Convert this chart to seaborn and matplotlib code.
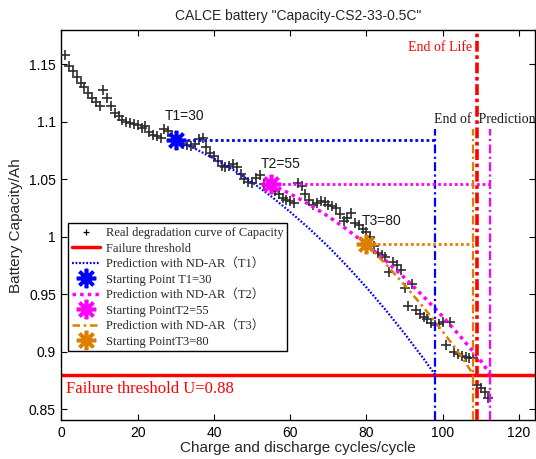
import numpy as np
import pandas as pd
import matplotlib
matplotlib.use("Agg")
import matplotlib.pyplot as plt
import seaborn as sns
from matplotlib.lines import Line2D

# Measured capacity (Ah) per charge/discharge cycle
cycles = list(range(1, 113))
capacity = [
    1.158, 1.149, 1.144, 1.139, 1.134, 1.130, 1.125, 1.121, 1.117, 1.114,
    1.128, 1.121, 1.114, 1.108, 1.105, 1.102, 1.100, 1.099, 1.098, 1.097,
    1.095, 1.096, 1.091, 1.089, 1.088, 1.086, 1.094, 1.092, 1.088, 1.084,
    1.083, 1.081, 1.080, 1.079, 1.081, 1.085, 1.086, 1.078, 1.073, 1.070,
    1.066, 1.062, 1.061, 1.062, 1.063, 1.061, 1.055, 1.050, 1.048, 1.047,
    1.051, 1.054, 1.046, 1.044, 1.043, 1.040, 1.037, 1.034, 1.032, 1.031,
    1.029, 1.047, 1.044, 1.037, 1.032, 1.028, 1.029, 1.031, 1.030, 1.028,
    1.027, 1.025, 1.020, 1.014, 1.016, 1.021, 1.012, 1.010, 1.007, 1.004,
    1.000, 0.992, 0.986, 0.984, 0.982, 0.969, 0.978, 0.975, 0.971, 0.955,
    0.940, 0.959, 0.936, 0.933, 0.930, 0.928, 0.925, 0.923, 0.924, 0.926,
    0.906, 0.926, 0.900, 0.898, 0.896, 0.895, 0.894, 0.894, 0.871, 0.868,
    0.865, 0.860,
]

# ND-AR predictions from three starting points
pred1_cycles = [30, 35, 40, 45, 50, 55, 60, 65, 70, 75, 80, 85, 90, 95, 98]
pred1_values = [1.0838, 1.0767, 1.0681, 1.0584, 1.0474, 1.0352, 1.0216, 1.0071,
                0.9914, 0.9742, 0.9559, 0.9364, 0.9157, 0.8938, 0.8800]
pred2_cycles = [55, 60, 65, 70, 75, 80, 85, 90, 95, 100, 105, 110, 112.5]
pred2_values = [1.0455, 1.0374, 1.0281, 1.0177, 1.0061, 0.9933, 0.9794, 0.9642,
                0.9479, 0.9305, 0.9118, 0.8920, 0.8800]
pred3_cycles = [80, 85, 90, 95, 100, 105, 108]
pred3_values = [0.9935, 0.9764, 0.9580, 0.9384, 0.9175, 0.8954, 0.8800]

start_cycles = [30, 55, 80]
start_values = [1.0838, 1.0455, 0.9935]
end_cycles = [98, 112.5, 108]
end_of_life = 109
threshold = 0.88

C_BLUE = "#0000FF"
C_MAG = "#FF00FF"
C_ORG = "#DE7E00"
C_RED = "#FF0000"

sns.set_theme(style="ticks")
plt.rcParams["font.family"] = ["Liberation Sans", "DejaVu Sans"]
serif = ["Liberation Serif", "DejaVu Serif"]

fig = plt.figure(figsize=(5.36, 4.59), dpi=100)
ax = fig.add_axes([0.1147, 0.0839, 0.8833, 0.8507])

df = pd.DataFrame({"cycle": cycles, "capacity": capacity})
sns.scatterplot(data=df, x="cycle", y="capacity", marker="+", color="#2e2e2e",
                s=55, linewidth=1.2, ax=ax, zorder=3, legend=False)

# failure threshold
ax.axhline(threshold, color=C_RED, lw=2.5, zorder=2)

# prediction curves
pred_df1 = pd.DataFrame({"cycle": pred1_cycles, "capacity": pred1_values})
pred_df2 = pd.DataFrame({"cycle": pred2_cycles, "capacity": pred2_values})
pred_df3 = pd.DataFrame({"cycle": pred3_cycles, "capacity": pred3_values})
sns.lineplot(data=pred_df1, x="cycle", y="capacity", color=C_BLUE, lw=1.6,
             linestyle=(0, (0.8, 0.8)), ax=ax, zorder=4)
sns.lineplot(data=pred_df2, x="cycle", y="capacity", color=C_MAG, lw=2.5,
             linestyle=(0, (1, 1.2)), ax=ax, zorder=4)
sns.lineplot(data=pred_df3, x="cycle", y="capacity", color=C_ORG, lw=1.8,
             linestyle=(0, (3, 1.5, 1, 1.5)), ax=ax, zorder=4)

# guide lines from each start point to its predicted end of life
vtop = 1.094
for sc, sv, ec, col in zip(start_cycles, start_values, end_cycles,
                           [C_BLUE, C_MAG, C_ORG]):
    ax.plot([sc, ec], [sv, sv], color=col, lw=2, linestyle=(0, (1, 1)), zorder=4)
    ax.plot([ec, ec], [0.84, vtop], color=col, lw=1.6,
            linestyle=(0, (4, 1.5, 1, 1.5)), zorder=4)
ax.axvline(end_of_life, color=C_RED, lw=2.6, linestyle=(0, (3, 1, 1, 1)), zorder=5)

# start-point asterisks
for sc, sv, col in zip(start_cycles, start_values, [C_BLUE, C_MAG, C_ORG]):
    ax.plot(sc, sv, marker=(8, 2, 0), ms=14, mew=2.6, color=col, zorder=6,
            linestyle="none")

# annotations
for sc, lbl, yv in zip(start_cycles, ["T1=30", "T2=55", "T3=80"],
                       [1.105, 1.0635, 1.0135]):
    ax.text(sc - 2.8 + (1.5 if sc == 80 else 0), yv, lbl, fontsize=10,
            ha="left", va="center", color="#1a1a1a")
ax.text(107.7, 1.1645, "End of Life", color=C_RED, fontsize=10, family=serif,
        ha="right", va="center")
ax.text(97.6, 1.102, "End of  Prediction", color="#1a1a1a", fontsize=10,
        family=serif, ha="left", va="center", clip_on=False)
ax.text(1.2, 0.867, "Failure threshold U=0.88", color=C_RED, fontsize=12,
        family=serif, ha="left", va="center")

ax.set_xlim(0, 124.2)
ax.set_ylim(0.84, 1.18)
ax.set_xticks([0, 20, 40, 60, 80, 100, 120])
ax.set_yticks([0.85, 0.9, 0.95, 1.0, 1.05, 1.1, 1.15])
ax.set_yticklabels(["0.85", "0.9", "0.95", "1", "1.05", "1.1", "1.15"])
ax.tick_params(direction="in", length=4, width=0.8, top=True, right=True,
               labelsize=10, colors="black", pad=4)
for sp in ax.spines.values():
    sp.set_linewidth(1.0)
    sp.set_color("black")
ax.set_xlabel("Charge and discharge cycles/cycle", fontsize=11, labelpad=1)
ax.set_ylabel("Battery Capacity/Ah", fontsize=11, labelpad=4)
ax.set_title('CALCE battery "Capacity-CS2-33-0.5C"', fontsize=10, pad=7)

handles = [
    Line2D([], [], marker="+", color="black", linestyle="none", ms=5, mew=0.9),
    Line2D([], [], color=C_RED, lw=2.5),
    Line2D([], [], color=C_BLUE, lw=1.6, linestyle=(0, (0.8, 0.8))),
    Line2D([], [], marker=(8, 2, 0), color=C_BLUE, linestyle="none", ms=14, mew=2.6),
    Line2D([], [], color=C_MAG, lw=2.5, linestyle=(0, (1, 1.2))),
    Line2D([], [], marker=(8, 2, 0), color=C_MAG, linestyle="none", ms=14, mew=2.6),
    Line2D([], [], color=C_ORG, lw=1.8, linestyle=(0, (3, 1.5, 1, 1.5))),
    Line2D([], [], marker=(8, 2, 0), color=C_ORG, linestyle="none", ms=14, mew=2.6),
]
labels = [
    "Real degradation curve of Capacity",
    "Failure threshold",
    "Prediction with ND-AR\uff08T1\uff09",
    "Starting Point T1=30",
    "Prediction with ND-AR\uff08T2\uff09",
    "Starting PointT2=55",
    "Prediction with ND-AR\uff08T3\uff09",
    "Starting PointT3=80",
]
leg = ax.legend(handles, labels, loc="upper left", bbox_to_anchor=(0.0144, 0.505),
                borderaxespad=0, frameon=True, fancybox=False, framealpha=1,
                edgecolor="black", handlelength=2.2, handletextpad=0.5,
                labelspacing=0.28, borderpad=0.3,
                prop={"family": ["Liberation Serif", "Noto Sans CJK SC"], "size": 9})
leg.get_frame().set_linewidth(1.0)

fig.savefig("out.png", dpi=100)
